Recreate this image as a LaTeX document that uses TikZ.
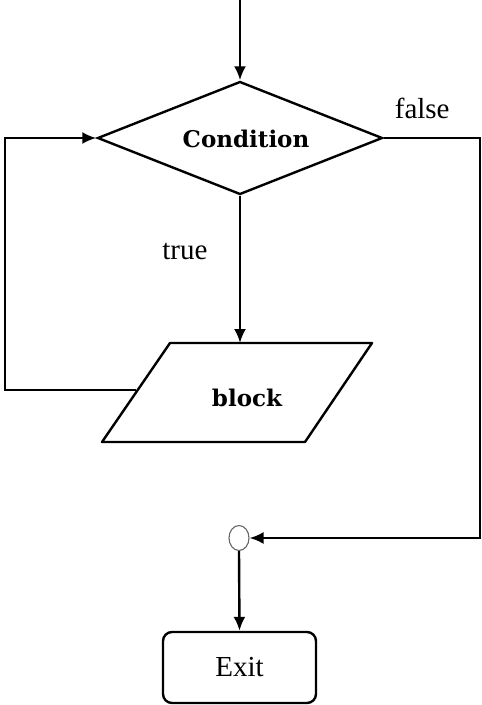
\documentclass[tikz,border=0pt]{standalone}
\usepackage{fontspec}
\setmainfont{Liberation Serif}
\newfontfamily\slabfont{DejaVu Serif}
\usepackage{tikz}
\usetikzlibrary{arrows.meta}
\usetikzlibrary{shapes.geometric}
\usetikzlibrary{positioning,calc}

\begin{document}
\begin{tikzpicture}[x=1pt,y=-1pt,line width=2.4pt,
	flow/.style={-{Latex[length=14pt,width=12pt]}},
	slab/.style={font=\slabfont\bfseries\fontsize{23}{25}\selectfont},
	decision/.style={draw,diamond,inner sep=0pt,aspect=2.5,minimum width=285pt,minimum height=113pt},
	mergept/.style={draw=black!60,line width=1.1pt,ellipse,inner sep=0pt,minimum width=20pt,minimum height=25pt,fill=white},
	exitbox/.style={draw,rounded corners=9pt,inner sep=0pt,minimum width=153pt,minimum height=71pt,font=\fontsize{29}{31}\selectfont},
	lbl/.style={font=\fontsize{29}{31}\selectfont}]
	\useasboundingbox (0,0) rectangle (482,705);
	% shapes
	\node[decision,label={[slab,xshift=6pt,yshift=-1pt]center:Condition}] (cond) at (240,138) {};
	\draw[line join=round] (170,343) coordinate (blocktop) -- (372,343) -- (305,442) -- (102,442) -- cycle;
	\coordinate (blockw) at (136,390);
	\coordinate (blockn) at (240,343);
	\node[slab] (block) at (247,398) {block};
	\node[mergept] (merge) at (239,538) {};
	\node[exitbox] (exit) at (239.5,667.5) {Exit};
	\coordinate (start) at (240,0);
	\coordinate (loopx) at (5,0);
	\coordinate (falsex) at (480,0);
	% connectors
	\draw[flow] (start) -- (cond.north);
	\draw[flow] (cond.south) -- (blockn) node[lbl,pos=0.38,left=28pt] {true};
	\draw[flow] (blockw) -- (blockw -| loopx) |- (cond.west);
	\draw[flow] (cond.east) -- (cond.east -| falsex) node[lbl,pos=0.4,above=15pt] {false} |- (merge.east);
	\draw[flow] (merge.south) -- (exit.north);
\end{tikzpicture}
\end{document}
